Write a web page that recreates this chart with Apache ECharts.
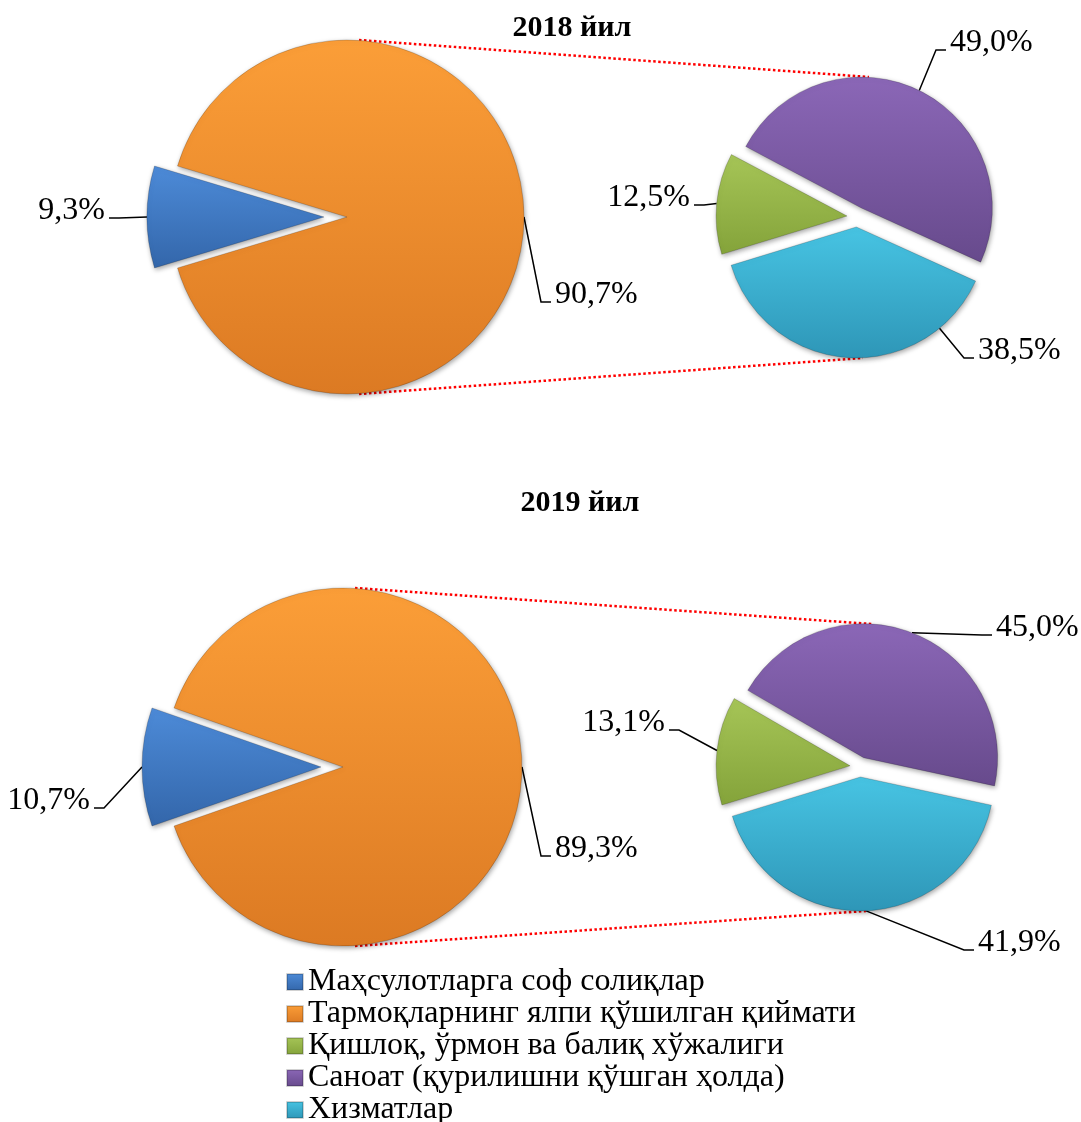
<!DOCTYPE html>
<html>
<head>
<meta charset="utf-8">
<title>ЯИМ таркиби</title>
<script src="https://cdn.jsdelivr.net/npm/echarts/dist/echarts.min.js"></script>
<style>
  html, body { margin: 0; padding: 0; background: #fff; }
  #main { width: 1081px; height: 1122px; }
</style>
</head>
<body>
<div id="main"></div>
<script>
// legend categories
const categories = [
  "Маҳсулотларга соф солиқлар",
  "Тармоқларнинг ялпи қўшилган қиймати",
  "Қишлоқ, ўрмон ва балиқ хўжалиги",
  "Саноат (қурилишни қўшган ҳолда)",
  "Хизматлар"
];
const years = ["2018 йил", "2019 йил"];

// left pie: taxes, gross value added; right pie: agriculture, industry, services
const main2018 = [9.3, 90.7];
const detail2018 = [12.5, 49.0, 38.5];
const main2019 = [10.7, 89.3];
const detail2019 = [13.1, 45.0, 41.9];

const colors = [
  ["#4d8bd8", "#3366aa"],
  ["#fb9e38", "#dc7a23"],
  ["#a6c557", "#84a33a"],
  ["#8b67b7", "#674a8c"],
  ["#47c4e3", "#2e96b7"]
];

// pie geometry (px)
const pies = [
  { center: [347, 217], r: 177, offset: 23 },
  { center: [857, 217], r: 131, offset: 10 },
  { center: [343, 767], r: 179, offset: 22 },
  { center: [860, 767], r: 134, offset: 10 }
];
// label spot relative to pie centre: dx, dy, align, where the leader line attaches
const labelSpots = [
  [[-242, -6, "right"], [208, 78, "left"]],
  [[-167, -19, "right"], [93, -174, "left"], [121, 134, "left", "near"]],
  [[-253, 34, "right"], [212, 82, "left"]],
  [[-195, -44, "right"], [136, -139, "left"], [118, 176, "left"]]
];

const pieValues = [main2018, detail2018, main2019, detail2019];
const pieCats = [[0, 1], [2, 3, 4], [0, 1], [2, 3, 4]];
const exploded = [[true, false], [true, true, true], [true, false], [true, true, true]];
const startAngles = [180 + main2018[0] * 1.8, 197, 180 + main2019[0] * 1.8, 197];

function grad(c) {
  return new echarts.graphic.LinearGradient(0, 0, 0, 1, [
    { offset: 0, color: c[0] },
    { offset: 1, color: c[1] }
  ]);
}

function midAngles(values, start) {
  const sum = values.reduce((a, b) => a + b, 0);
  let a = start;
  return values.map(function (v) {
    const span = (v / sum) * 360;
    const m = a - span / 2;
    a -= span;
    return m;
  });
}

function fmt(v) {
  return v.toFixed(1).replace(".", ",") + "%";
}

// centre of one slice after it is pulled out of the pie
function sliceCenter(p, k) {
  const pie = pies[p];
  const m = (midAngles(pieValues[p], startAngles[p])[k] * Math.PI) / 180;
  const off = exploded[p][k] ? pie.offset : 0;
  return [pie.center[0] + off * Math.cos(m), pie.center[1] - off * Math.sin(m)];
}

function placeLabel(p, k) {
  const pie = pies[p];
  const spot = labelSpots[p][k];
  const m = (midAngles(pieValues[p], startAngles[p])[k] * Math.PI) / 180;
  const c = sliceCenter(p, k);
  const x = pie.center[0] + spot[0];
  const y = pie.center[1] + spot[1];
  const sign = spot[2] === "left" ? 1 : -1;
  const end = [x - sign * 4, y + 7];
  const elbow = [end[0] - sign * 10, end[1]];
  let a = m;
  if (spot[3] === "near") a = Math.atan2(-(elbow[1] - c[1]), elbow[0] - c[0]);
  const arc = [c[0] + pie.r * Math.cos(a), c[1] - pie.r * Math.sin(a)];
  return {
    x: x,
    y: y,
    align: spot[2],
    verticalAlign: "middle",
    labelLinePoints: [arc, elbow, end]
  };
}

// one series per slice, so every slice can sit at its own (exploded) centre
function sliceSeries(p, k) {
  return {
    type: "pie",
    center: sliceCenter(p, k),
    radius: pies[p].r,
    startAngle: startAngles[p],
    clockwise: true,
    avoidLabelOverlap: false,
    silent: true,
    emphasis: { disabled: true },
    label: {
      show: true,
      position: "outside",
      formatter: function (d) { return fmt(d.value); },
      fontFamily: "Liberation Serif",
      fontSize: 32,
      color: "#000"
    },
    labelLine: {
      show: true,
      length: 10,
      length2: 10,
      lineStyle: { color: "#000", width: 1.5 }
    },
    labelLayout: function () { return placeLabel(p, k); },
    data: pieValues[p].map(function (v, i) {
      if (i !== k) {
        return {
          name: "",
          value: v,
          itemStyle: { color: "transparent", borderWidth: 0, shadowBlur: 0 },
          label: { show: false },
          labelLine: { show: false }
        };
      }
      const c = pieCats[p][i];
      return {
        name: categories[c],
        value: v,
        itemStyle: {
          color: grad(colors[c]),
          borderColor: "rgba(0,0,0,0.18)",
          borderWidth: 1,
          shadowBlur: 5,
          shadowOffsetX: 1,
          shadowOffsetY: 2,
          shadowColor: "rgba(0,0,0,0.35)"
        }
      };
    }),
    z: 3
  };
}

// red dotted connectors between the two pies of each year
function connectors(l, r) {
  const L = pies[l], R = pies[r];
  const style = { stroke: "#ff0000", lineWidth: 2.5, lineDash: [2.5, 2.5] };
  return [
    { type: "line", z: 1, silent: true, style: style,
      shape: { x1: L.center[0] + 12, y1: L.center[1] - L.r,
               x2: R.center[0] + 12, y2: R.center[1] - R.r - 9 } },
    { type: "line", z: 1, silent: true, style: style,
      shape: { x1: L.center[0] + 12, y1: L.center[1] + L.r,
               x2: R.center[0] + 6, y2: R.center[1] + R.r + 10 } }
  ];
}

const series = [];
pieValues.forEach(function (vals, p) {
  vals.forEach(function (v, k) { series.push(sliceSeries(p, k)); });
});

var myChart = echarts.init(document.getElementById("main"), null, { renderer: "canvas" });
myChart.setOption({
  animation: false,
  backgroundColor: "#fff",
  title: [
    { text: years[0], left: 572, top: 13, textAlign: "center", padding: 0,
      textStyle: { fontFamily: "Liberation Serif", fontWeight: "bold", fontSize: 30, color: "#000" } },
    { text: years[1], left: 580, top: 488, textAlign: "center", padding: 0,
      textStyle: { fontFamily: "Liberation Serif", fontWeight: "bold", fontSize: 30, color: "#000" } }
  ],
  legend: {
    orient: "vertical",
    left: 286,
    top: 966,
    height: 220,
    padding: 0,
    itemWidth: 16,
    itemHeight: 16,
    itemGap: 0,
    icon: "rect",
    selectedMode: false,
    data: categories,
    textStyle: { fontFamily: "Liberation Serif", fontSize: 32, lineHeight: 30, color: "#000" }
  },
  graphic: connectors(0, 1).concat(connectors(2, 3)),
  series: series
});
</script>
</body>
</html>
